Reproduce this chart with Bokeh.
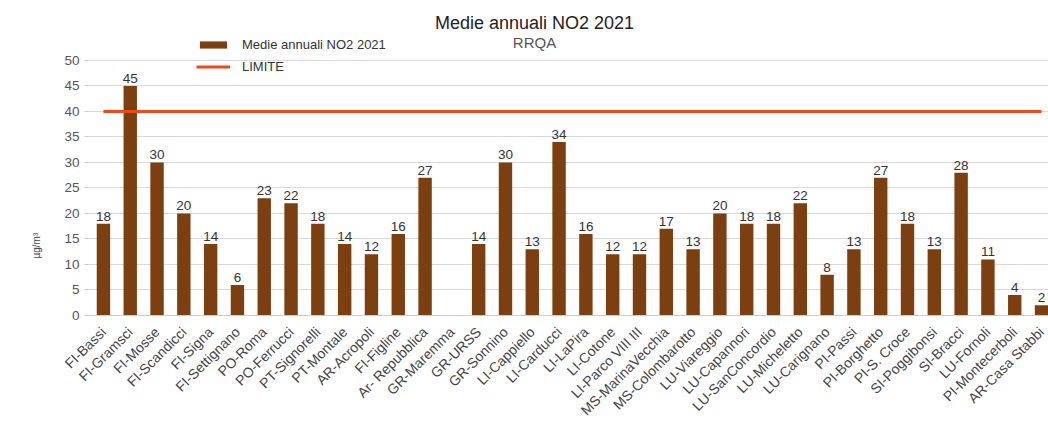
import math
from bokeh.plotting import figure
from bokeh.models import Range1d, FixedTicker, Label, Legend, LegendItem, ColumnDataSource, Title
from bokeh.core.properties import value
from bokeh.embed import file_html
from bokeh.resources import INLINE

stations = ["FI-Bassi", "FI-Gramsci", "FI-Mosse", "FI-Scandicci", "FI-Signa", "FI-Settignano",
            "PO-Roma", "PO-Ferrucci", "PT-Signorelli", "PT-Montale", "AR-Acropoli", "FI-Figline",
            "Ar- Repubblica", "GR-Maremma", "GR-URSS", "GR-Sonnino", "LI-Cappiello", "LI-Carducci",
            "LI-LaPira", "LI-Cotone", "LI-Parco VIII III", "MS-MarinaVecchia", "MS-Colombarotto",
            "LU-Viareggio", "LU-Capannori", "LU-SanConcordio", "LU-Micheletto", "LU-Carignano",
            "PI-Passi", "PI-Borghetto", "PI-S. Croce", "SI-Poggibonsi", "SI-Bracci", "LU-Fornoli",
            "PI-Montecerboli", "AR-Casa Stabbi"]
no2 = [18, 45, 30, 20, 14, 6, 23, 22, 18, 14, 12, 16, 27, None, 14, 30, 13, 34, 16, 12, 12,
       17, 13, 20, 18, 18, 22, 8, 13, 27, 18, 13, 28, 11, 4, 2]
limite = [40] * len(stations)
y_ticks = [0, 5, 10, 15, 20, 25, 30, 35, 40, 45, 50]

FONT = "Liberation Sans"
xs = list(range(len(stations)))
bx = [i for i, v in zip(xs, no2) if v is not None]
bv = [v for v in no2 if v is not None]
bsrc = ColumnDataSource(dict(x=bx, top=bv, lbl=[str(v) for v in bv]))

p = figure(width=1048, height=426, output_backend="svg", toolbar_location=None,
           x_range=Range1d(-0.52, 35.26), y_range=Range1d(0, 61.76),
           min_border_left=89, min_border_right=0, min_border_top=0, min_border_bottom=111)
p.outline_line_color = None
p.background_fill_color = "white"

p.ygrid.ticker = FixedTicker(ticks=y_ticks)
p.ygrid.grid_line_color = "#d8d8d8"

bars = p.vbar(x="x", top="top", width=0.5, source=bsrc, fill_color="#7b3f10", line_color=None)
line = p.line(xs, limite, line_color="#f04a1c", line_width=3)
p.text(x="x", y="top", text="lbl", source=bsrc, text_align="center", text_baseline="bottom",
       y_offset=-3, text_font=value(FONT), text_font_size="13.5px", text_color="#333333")

p.xaxis.ticker = FixedTicker(ticks=xs)
p.xaxis.major_label_overrides = {i: s for i, s in enumerate(stations)}
p.xaxis.major_label_orientation = math.pi / 4
p.xaxis.major_label_text_font = FONT
p.xaxis.major_label_text_font_size = "14px"
p.xaxis.major_label_text_color = "#444444"
p.xaxis.major_label_standoff = 14
p.xaxis.axis_line_color = "#cccccc"
p.xaxis.major_tick_line_color = None
p.xaxis.major_tick_in = 0
p.xaxis.major_tick_out = 0
p.xaxis.minor_tick_line_color = None
p.xgrid.grid_line_color = None

p.yaxis.ticker = FixedTicker(ticks=y_ticks)
p.yaxis.major_label_text_font = FONT
p.yaxis.major_label_text_font_size = "13.5px"
p.yaxis.major_label_text_color = "#555555"
p.yaxis.axis_line_color = None
p.yaxis.major_tick_line_color = "#cccccc"
p.yaxis.major_tick_in = 0
p.yaxis.major_tick_out = 5
p.yaxis.minor_tick_line_color = None

p.add_layout(Title(text="µg/m³", align="left", offset=57, text_font=FONT,
                   text_font_size="10px", text_font_style="normal", text_color="#444444",
                   standoff=40), "left")

p.add_layout(Label(x=445, y=293, x_units="screen", y_units="screen", text="Medie annuali NO2 2021",
                   text_align="center", text_baseline="middle", text_font=FONT,
                   text_font_size="18px", text_color="#222222"))
p.add_layout(Label(x=445, y=273, x_units="screen", y_units="screen", text="RRQA",
                   text_align="center", text_baseline="middle", text_font=FONT,
                   text_font_size="15px", text_color="#555555"))

legend = Legend(items=[LegendItem(label="Medie annuali NO2 2021", renderers=[bars]),
                       LegendItem(label="LIMITE", renderers=[line])],
                location=(107, 240), background_fill_alpha=0, border_line_color=None,
                label_text_font=FONT, label_text_font_size="13px", label_text_color="#333333",
                glyph_width=34, glyph_height=9, label_height=18, label_standoff=12,
                spacing=4, padding=2, margin=0)
p.add_layout(legend, "center")

open("out.html", "w").write(file_html(p, INLINE))
